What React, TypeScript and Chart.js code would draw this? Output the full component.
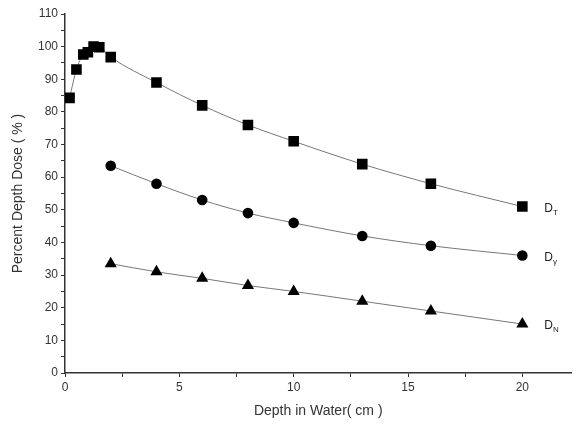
import React, { useEffect, useRef } from "react";
import { Chart, registerables } from "chart.js";

Chart.register(...registerables);

const dtDepth = [0.2, 0.5, 0.8, 1.0, 1.25, 1.5, 2, 4, 6, 8, 10, 13, 16, 20];
const dtDose = [84.3, 93, 97.6, 98.3, 100, 99.8, 96.8, 89, 82, 76, 71, 64, 58, 51];
const dyDepth = [2, 4, 6, 8, 10, 13, 16, 20];
const dyDose = [63.5, 58, 53, 49, 46, 42, 39, 36];
const dnDepth = [2, 4, 6, 8, 10, 13, 16, 20];
const dnDose = [33.5, 31, 29, 26.8, 25, 22, 19, 15];
const seriesLabels = [
  { main: "D", sub: "T" },
  { main: "D", sub: "γ" },
  { main: "D", sub: "N" },
];

const toPts = (xs: number[], ys: number[]) => xs.map((x, i) => ({ x, y: ys[i] }));

const labelPlugin = {
  id: "endLabels",
  afterDatasetsDraw(chart: any) {
    const ctx = chart.ctx;
    ctx.save();
    ctx.fillStyle = "#222";
    seriesLabels.forEach((lab, i) => {
      const meta = chart.getDatasetMeta(i);
      const pt = meta.data[meta.data.length - 1];
      const x = pt.x + 22;
      const y = pt.y + 5;
      ctx.font = "12px Arial, 'Liberation Sans', sans-serif";
      ctx.textBaseline = "alphabetic";
      ctx.fillText(lab.main, x, y);
      const w = ctx.measureText(lab.main).width;
      ctx.font = "8px Arial, 'Liberation Sans', sans-serif";
      ctx.fillText(lab.sub, x + w, y + 3);
    });
    ctx.restore();
  },
};

export default function App() {
  const ref = useRef<HTMLCanvasElement>(null);
  useEffect(() => {
    if (!ref.current) return;
    const font = "Arial, 'Liberation Sans', sans-serif";
    const chart = new Chart(ref.current, {
      type: "scatter",
      data: {
        datasets: [
          {
            data: toPts(dtDepth, dtDose),
            showLine: true,
            borderColor: "#777",
            borderWidth: 1,
            cubicInterpolationMode: "monotone",
            pointStyle: "rect",
            pointRadius: 7.5,
            backgroundColor: "#000",
            pointBorderColor: "#000",
            pointBorderWidth: 0,
          },
          {
            data: toPts(dyDepth, dyDose),
            showLine: true,
            borderColor: "#777",
            borderWidth: 1,
            cubicInterpolationMode: "monotone",
            pointStyle: "circle",
            pointRadius: 5.3,
            backgroundColor: "#000",
            pointBorderColor: "#000",
            pointBorderWidth: 0,
          },
          {
            data: toPts(dnDepth, dnDose),
            showLine: true,
            borderColor: "#777",
            borderWidth: 1,
            cubicInterpolationMode: "monotone",
            pointStyle: "triangle",
            pointRadius: 7,
            backgroundColor: "#000",
            pointBorderColor: "#000",
            pointBorderWidth: 0,
          },
        ],
      },
      options: {
        responsive: false,
        animation: false,
        layout: { padding: { top: 14, right: 0, left: 0, bottom: 12 } },
        plugins: { legend: { display: false }, tooltip: { enabled: false } },
        scales: {
          x: {
            type: "linear",
            min: 0,
            max: 22.15,
            grid: { drawOnChartArea: false, tickLength: 4, color: "#333", tickColor: "#333" },
            border: { color: "#333", width: 1.5 },
            afterBuildTicks: (s: any) => {
              s.ticks = [0, 2.5, 5, 7.5, 10, 12.5, 15, 17.5, 20].map((v) => ({ value: v }));
            },
            ticks: {
              autoSkip: false,
              maxRotation: 0,
              padding: 3,
              color: "#333",
              font: { family: font, size: 12 },
              callback: (v: any) => (Number(v) % 5 === 0 ? String(v) : ""),
            },
            title: {
              display: true,
              text: "Depth in Water( cm )",
              color: "#333",
              font: { family: font, size: 14 },
              padding: { top: 4, bottom: 0 },
            },
            afterFit: (s: any) => {
              s.height = 47;
            },
          },
          y: {
            min: 0,
            max: 110,
            grid: { drawOnChartArea: false, tickLength: 4, color: "#333", tickColor: "#333" },
            border: { color: "#333", width: 1.5 },
            ticks: {
              stepSize: 5,
              autoSkip: false,
              padding: 3,
              color: "#333",
              font: { family: font, size: 12 },
              callback: (v: any) => (Number(v) % 10 === 0 ? String(v) : ""),
            },
            title: {
              display: true,
              text: "Percent Depth Dose ( % )",
              color: "#333",
              font: { family: font, size: 14 },
              padding: { top: 10, bottom: 4 },
            },
            afterFit: (s: any) => {
              s.width = 65;
            },
          },
        },
      },
      plugins: [labelPlugin],
    });
    return () => chart.destroy();
  }, []);
  return (
    <div style={{ position: "fixed", left: 0, top: 0, width: 579, height: 432, background: "#fff" }}>
      <canvas ref={ref} width={579} height={432} style={{ display: "block" }} />
    </div>
  );
}
